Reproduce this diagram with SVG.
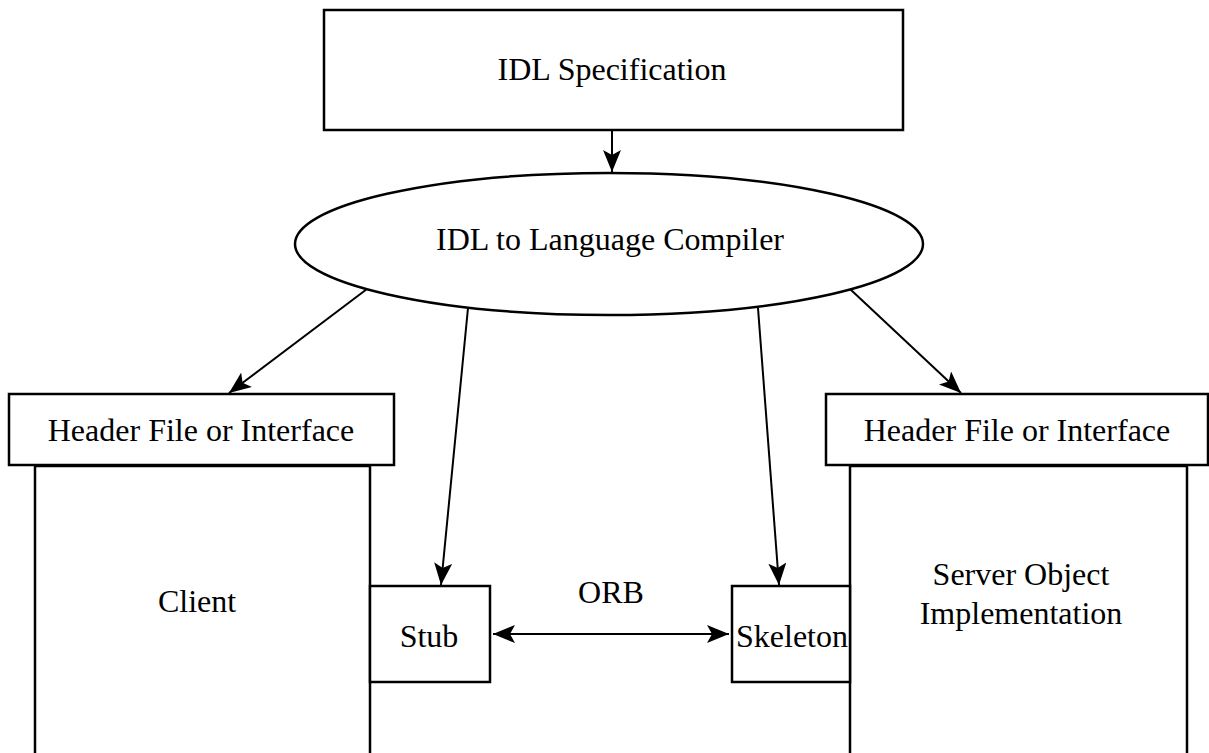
<svg xmlns="http://www.w3.org/2000/svg" width="1209" height="753" viewBox="0 0 1209 753">
<style>
.box{fill:#fff;stroke:#000;stroke-width:2.5}
.line{fill:none;stroke:#000;stroke-width:2}
.t{font-family:"Liberation Serif","Times New Roman",serif;font-size:32px;fill:#000;text-anchor:middle}
</style>
<defs>
<marker id="ah" viewBox="0 0 22 18" refX="22" refY="9" markerWidth="22" markerHeight="18" markerUnits="userSpaceOnUse" orient="auto-start-reverse">
<path d="M0,0 L22,9 L0,18 L5,9 z" fill="#000"/>
</marker>
</defs>
<rect width="1209" height="753" fill="#fff"/>
<g id="idl-spec">
<rect class="box" x="324" y="10" width="579" height="120"/>
<text class="t" x="612" y="80">IDL Specification</text>
</g>
<g id="compiler">
<ellipse class="box" cx="609" cy="244" rx="314" ry="71"/>
<text class="t" x="610" y="250">IDL to Language Compiler</text>
</g>
<g id="client">
<rect class="box" x="35" y="466" width="335" height="300"/>
<text class="t" x="197" y="612">Client</text>
</g>
<g id="client-header">
<rect class="box" x="9" y="394" width="385" height="71"/>
<text class="t" x="201" y="441">Header File or Interface</text>
</g>
<g id="server">
<rect class="box" x="850" y="466" width="337" height="300"/>
<text class="t" x="1021" y="585">Server Object</text>
<text class="t" x="1021" y="624">Implementation</text>
</g>
<g id="server-header">
<rect class="box" x="826" y="394" width="382" height="71"/>
<text class="t" x="1017" y="441">Header File or Interface</text>
</g>
<g id="stub">
<rect class="box" x="370" y="586" width="120" height="96"/>
<text class="t" x="429" y="647">Stub</text>
</g>
<g id="skeleton">
<rect class="box" x="732" y="586" width="118" height="96"/>
<text class="t" x="792" y="647">Skeleton</text>
</g>
<g id="connectors">
<line class="line" x1="612" y1="131" x2="612" y2="172" marker-end="url(#ah)"/>
<line class="line" x1="367" y1="289" x2="229" y2="393" marker-end="url(#ah)"/>
<line class="line" x1="468" y1="308" x2="441" y2="585" marker-end="url(#ah)"/>
<line class="line" x1="758" y1="308" x2="779" y2="585" marker-end="url(#ah)"/>
<line class="line" x1="850" y1="289" x2="961" y2="393" marker-end="url(#ah)"/>
<line class="line" x1="493" y1="634" x2="729" y2="634" stroke-width="3" marker-start="url(#ah)" marker-end="url(#ah)"/>
<text class="t" x="611" y="603">ORB</text>
</g>
</svg>
